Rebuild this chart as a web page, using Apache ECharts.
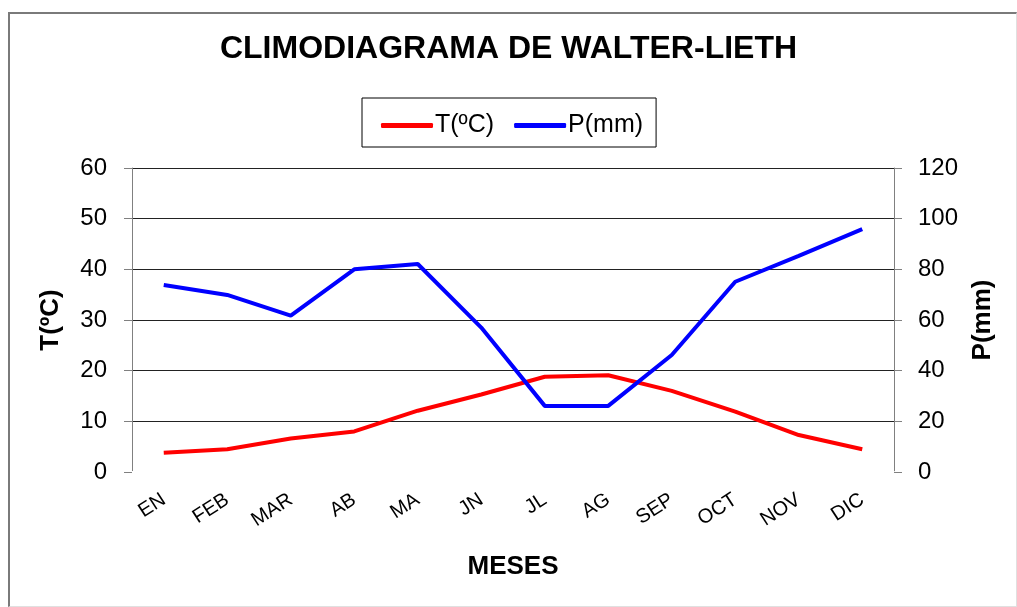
<!DOCTYPE html>
<html>
<head>
<meta charset="utf-8">
<script src="https://cdn.jsdelivr.net/npm/echarts@6/dist/echarts.min.js"></script>
<style>
  html, body { margin: 0; padding: 0; background: #fff; }
  #frame {
    position: absolute; left: 8px; top: 12px; width: 1006px; height: 592px;
    border-left: 2px solid #7a7a7a; border-top: 2px solid #7a7a7a;
    border-right: 1px solid #e0e0e0; border-bottom: 1px solid #e0e0e0;
  }
  #chart { position: absolute; left: 0; top: 0; width: 1017px; height: 607px; }
</style>
</head>
<body>
<div id="frame"></div>
<div id="chart"></div>
<script>
  // monthly climate data
  var months = ['EN', 'FEB', 'MAR', 'AB', 'MA', 'JN', 'JL', 'AG', 'SEP', 'OCT', 'NOV', 'DIC'];
  var temperature = [3.8, 4.5, 6.6, 8.0, 12.1, 15.3, 18.8, 19.1, 16.0, 11.9, 7.3, 4.5];
  var precipitation = [73.8, 69.9, 61.7, 80.0, 82.1, 57.0, 26.1, 26.1, 46.2, 75.1, 85.3, 95.9];

  var font = 'Arial, "Liberation Sans", sans-serif';

  var chart = echarts.init(document.getElementById('chart'));

  chart.setOption({
    animation: false,
    title: {
      text: 'CLIMODIAGRAMA DE WALTER-LIETH',
      left: 'center',
      top: 28,
      textStyle: { fontFamily: font, fontSize: 32, fontWeight: 'bold', color: '#000' }
    },
    legend: {
      left: 362,
      top: 98,
      padding: [15, 13, 9, 19],
      borderColor: '#000',
      borderWidth: 1,
      itemWidth: 52,
      itemHeight: 5,
      itemGap: 20,
      icon: 'roundRect',
      textStyle: { fontFamily: font, fontSize: 25, color: '#000', padding: [0, 0, 0, -3] },
      data: ['T(ºC)', 'P(mm)']
    },
    grid: { left: 132, right: 123, top: 168, bottom: 135 },
    xAxis: {
      type: 'category',
      data: months,
      boundaryGap: true,
      name: 'MESES',
      nameLocation: 'middle',
      nameGap: 82,
      nameTextStyle: { fontFamily: font, fontSize: 26, fontWeight: 'bold', color: '#000' },
      axisLine: { show: true, lineStyle: { color: '#fff', width: 3 } },
      axisTick: { show: false },
      axisLabel: { rotate: 33, margin: 26, fontFamily: font, fontSize: 20, color: '#000' }
    },
    yAxis: [{
      type: 'value',
      min: 0, max: 60, interval: 10,
      name: 'T(ºC)',
      nameLocation: 'middle',
      nameGap: 68,
      nameTextStyle: { fontFamily: font, fontSize: 26, fontWeight: 'bold', color: '#000' },
      axisLine: { show: true, lineStyle: { color: '#808080', width: 1 } },
      axisTick: { show: true, length: 8, lineStyle: { color: '#808080' } },
      axisLabel: { margin: 25, fontFamily: font, fontSize: 24, color: '#000' },
      splitLine: { show: true, lineStyle: { color: '#222', width: 1 } }
    }, {
      type: 'value',
      min: 0, max: 120, interval: 20,
      name: 'P(mm)',
      nameLocation: 'middle',
      nameGap: 76,
      nameTextStyle: { fontFamily: font, fontSize: 26, fontWeight: 'bold', color: '#000' },
      axisLine: { show: true, lineStyle: { color: '#808080', width: 1 } },
      axisTick: { show: true, length: 8, lineStyle: { color: '#808080' } },
      axisLabel: { margin: 24, fontFamily: font, fontSize: 24, color: '#000' },
      splitLine: { show: false }
    }],
    series: [{
      name: 'T(ºC)',
      type: 'line',
      data: temperature,
      yAxisIndex: 0,
      symbol: 'none',
      color: '#ff0000',
      lineStyle: { color: '#ff0000', width: 4 }
    }, {
      name: 'P(mm)',
      type: 'line',
      data: precipitation,
      yAxisIndex: 1,
      symbol: 'none',
      color: '#0000ff',
      lineStyle: { color: '#0000ff', width: 4 }
    }]
  });
</script>
</body>
</html>
